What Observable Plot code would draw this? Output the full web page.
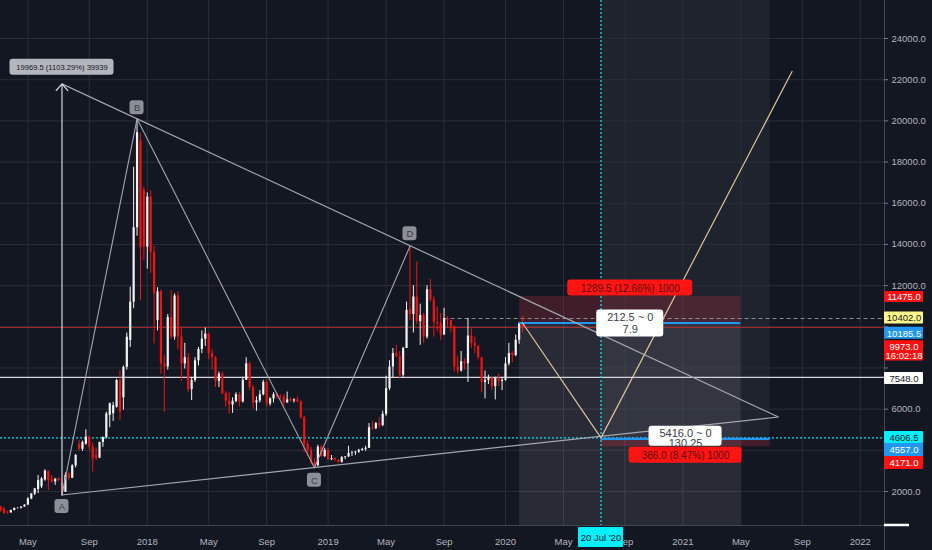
<!DOCTYPE html>
<html><head><meta charset="utf-8">
<script src="https://cdn.jsdelivr.net/npm/d3@7"></script>
<script src="https://cdn.jsdelivr.net/npm/@observablehq/plot@0.6"></script>
<style>html,body{margin:0;padding:0;background:#131722;overflow:hidden}#chart svg{display:block}</style>
</head><body><div id="chart"></div>
<script>
// ---------- DATA ----------
const firstWeek = "2017-03-06"; // weekly bars, Monday open
const opens = [1250,1150,1000,965,1080,1180,1190,1250,1340,1640,1880,2100,2230,2560,2970,2600,2460,2610,2450,1970,2850,2650,3250,4300,4050,4300,4640,4150,3760,3620,4380,4620,5700,5780,6095,7390,6550,8037,9340,11200,14810,19020,16620,13870,16300,13600,10300,11700,8200,8050,10450,9500,11500,9500,8200,8500,6950,7400,8350,8900,9400,9650,8700,8500,7350,7700,6750,6400,6200,6380,6700,6350,7400,8200,7050,6300,6400,6700,7300,6250,6500,6700,6620,6580,6300,6450,6400,6450,6350,5600,4300,4000,3400,3250,4150,3700,4000,3550,3600,3520,3420,3650,3680,3850,3880,3920,4000,4050,4100,5100,5050,5300,5200,5750,7000,8050,8700,8550,7650,8950,10850,10600,11450,10250,10550,9500,11800,11300,10200,10150,9600,10400,10300,10000,8050,7850,8300,8200,9550,9200,9050,8500,7300,7400,7500,7100,7500,7350,7400,8200,8700,8600,9350,10150];
const highs = [1290,1200,1060,1100,1200,1220,1260,1360,1700,1900,2150,2780,2680,3050,3000,2780,2630,2680,2560,2900,2930,3300,3800,4480,4450,5000,4700,4350,4100,4400,4650,5850,6300,6330,7450,7880,8100,9700,11925,17750,20100,19400,16780,16500,16600,13900,11900,11800,8600,10600,11750,11600,11700,9900,9200,8700,7550,8500,9000,9800,9950,9700,8900,8550,7800,7800,6850,6800,6550,6800,6800,7550,8500,8280,7150,6600,6900,7400,7410,6550,6800,6800,6700,6700,6830,6550,6500,6600,6400,5650,4450,4150,3600,4250,4250,4100,4100,3750,3650,3550,3700,3700,4200,3950,3950,4050,4100,4200,5300,5400,5350,5600,5900,7600,8350,8950,9100,8800,9000,11200,13914,12000,13150,11100,10650,12000,12300,11450,10950,10650,10900,10500,10300,10050,8550,8800,8450,10400,9900,9500,9100,8500,7850,7650,7550,7550,7700,7550,8500,9200,8800,9600,10200,10500];
const lows = [1000,890,900,940,1060,1150,1150,1230,1330,1600,1800,1900,2150,2500,2050,2400,2300,2480,1830,1950,2550,2630,3150,3950,3950,4250,4000,2950,3500,3600,4150,4550,5100,5400,6050,5450,5950,7900,9000,10880,14400,11280,13220,12800,12600,9170,9800,7700,5850,7900,9400,9350,8900,7350,7950,6800,6420,7300,8100,8700,9050,8400,7900,7050,7050,6700,6100,5750,5800,6300,6100,6300,7400,6900,6000,5900,6300,6650,6100,6150,6300,6500,6450,6100,6300,6350,6300,6300,5500,3900,3700,3300,3152,3200,3650,3650,3500,3500,3450,3350,3380,3550,3650,3700,3750,3850,3950,3950,4100,4950,5000,5050,5150,5650,6900,7500,8500,7450,7550,8950,10300,9700,10100,9100,9200,9400,11200,9500,9750,9350,9600,9950,9700,7800,7700,7800,7900,7300,8950,8700,8400,6800,6500,7200,6900,6450,7100,6900,7350,8100,8250,8550,9150,9700];
const closes = [1060,930,960,1080,1180,1190,1250,1340,1640,1880,2130,2530,2610,3000,2535,2470,2600,2530,1970,2780,2650,3250,3750,4050,4380,4640,4150,3600,3620,4380,4620,5770,6260,6170,7390,5860,8030,9494,11200,14810,19425,13840,13870,16300,13600,11600,11700,8200,8050,10450,9500,11500,9500,8200,8500,6950,7400,8350,8900,9400,9650,8700,8500,7350,7700,6750,6400,6200,6380,6700,6350,7400,8200,7050,6300,6400,6700,7300,6250,6500,6700,6620,6580,6300,6450,6400,6450,6350,5600,4300,4000,3400,3250,4150,3700,4000,3550,3600,3520,3420,3650,3680,3850,3880,3920,4000,4050,4100,5100,5050,5300,5200,5750,7000,8050,8700,8550,7650,8950,10800,10600,11450,10250,10550,9500,11800,11300,10200,10150,9600,10400,10300,10000,8050,7850,8300,8200,9550,9200,9050,8500,7300,7400,7500,7100,7500,7350,7400,8200,8700,8600,9350,10150,9973];

const xDomain = ["2017-03-05T19:30:00Z", "2022-02-21T17:00:00Z"];
const yDomain = [350, 25847];
const yTicks = [2000, 4000, 6000, 8000, 10000, 12000, 14000, 16000, 18000, 20000, 22000, 24000];
const yTickLabelsShown = [2000, 6000, 12000, 14000, 16000, 18000, 20000, 22000, 24000]; // others hidden behind price tags
const xTickDates = ["2017-05-01","2017-09-04","2018-01-01","2018-05-07","2018-09-03","2019-01-07","2019-05-06","2019-09-02","2020-01-06","2020-05-04","2020-09-07","2021-01-04","2021-05-03","2021-09-06","2022-01-03"];
const xTickLabels = ["May","Sep","2018","May","Sep","2019","May","Sep","2020","May","Sep","2021","May","Sep","2022"];

// drawings
const patternLabels = ["A","B","C","D"];
const patternDates = ["2017-07-10","2017-12-11","2018-12-10","2019-06-24"];
const patternPrices = [1830, 20100, 3152, 13914];
const arrowTopPrice = 21799.5;
const arrowText = "19969.5 (1103.29%) 39939";
const apexDate = "2021-07-19";
const apexPrice = 5620;
const projDates = ["2020-02-10","2020-07-20","2021-08-16"];
const projPrices = [10185.5, 4606.5, 22400];
const shortStart = "2020-02-04", shortEnd = "2021-05-03", shortEntry = 10185.5, shortStop = 11475;
const shortStopText = "1289.5 (12.66%) 1000", shortPnl = "212.5 ~ 0", shortRR = "7.9";
const longStart = "2020-07-20", longEnd = "2021-07-02", longEntry = 4557, longStop = 4171;
const longStopText = "386.0 (8.47%) 1000", longPnl = "5416.0 ~ 0", longRR = "130.25";
const lastPrice = 9973, whiteLevel = 7548, cyanLevel = 4606.5;
const dashedLevel = 10402, dashedStart = "2019-09-02";
const cursorDate = "2020-07-20", cursorText = "20 Jul '20";
const tagPrices = [11475, 10402, 10185.5, 9973, 9973, 7548, 4606.5, 4557, 4171];
const tagTexts = ["11475.0","10402.0","10185.5","9973.0","16:02:18","7548.0","4606.5","4557.0","4171.0"];
const tagKinds = ["red","yellow","blue","red","red","white","cyan","blue","red"];

// ---------- BUILD ----------
const D = s => new Date(s);
const candles = opens.map((o, i) => ({
  date: new Date(D(firstWeek).getTime() + i * 7 * 864e5),
  open: o, high: highs[i], low: lows[i], close: closes[i], up: closes[i] >= o
}));
const xEnd = D(xDomain[1]);
const pattern = patternLabels.map((l, i) => ({label: l, date: D(patternDates[i]), price: patternPrices[i]}));
const proj = projDates.map((d, i) => ({date: D(d), price: projPrices[i]}));
const mid = (a, b) => new Date((D(a).getTime() + D(b).getTime()) / 2);

const FONT = "Liberation Sans, Arial, sans-serif";
const RED = "#f23645", WHITE_C = "#f2f2f2", RED_C = "#f01414";
const tagFill = {red: "#ff1010", yellow: "#fff78a", blue: "#2196f3", white: "#ffffff", cyan: "#00f0ff"};
const tagInk = {red: "#ffffff", yellow: "#131722", blue: "#ffffff", white: "#131722", cyan: "#131722"};
const tagDy = [0.5, -0.5, 10.2, 19, 28.6, 1.2, -0.4, 11.1, 16.2];
const tagH = [11, 12, 12, 11, 10, 12, 12, 13, 13];

// helper: pixel-sized box anchored at a data point
function box(data, o) {
  const w = o.w, h = o.h;
  return Plot.rect(data, {
    x1: o.x, x2: o.x, y1: o.y, y2: o.y,
    insetLeft: o.left ? 0 : -w / 2, insetRight: o.left ? -w : -w / 2,
    insetTop: -h / 2, insetBottom: -h / 2,
    dx: o.dx || 0, dy: o.dy || 0, fill: o.fill, rx: o.rx ?? 2, stroke: o.stroke
  });
}

const tags = tagPrices.map((p, i) => ({price: p, text: tagTexts[i], kind: tagKinds[i], dy: tagDy[i], h: tagH[i]}));

const marks = [
  // long tool target zone (grey, to top)
  Plot.rect([0], {x1: D(longStart), x2: D(longEnd), y1: longEntry, y2: yDomain[1], fill: "#ffffff", fillOpacity: 0.055}),
  // grid
  Plot.ruleY(yTicks, {stroke: "#2a2e39", strokeWidth: 1}),
  Plot.ruleX(xTickDates.map(D), {stroke: "#2a2e39", strokeWidth: 1}),
  // short tool target zone (grey, down to bottom)
  Plot.rect([0], {x1: D(shortStart), x2: D(shortEnd), y1: yDomain[0], y2: shortEntry, fill: "#ffffff", fillOpacity: 0.09}),
  // stop zones
  Plot.rect([0], {x1: D(shortStart), x2: D(shortEnd), y1: shortEntry, y2: shortStop, fill: RED, fillOpacity: 0.2}),
  Plot.rect([0], {x1: D(longStart), x2: D(longEnd), y1: longStop, y2: longEntry, fill: RED, fillOpacity: 0.22}),
  // horizontal levels
  Plot.ruleY([whiteLevel], {stroke: "#d1d4dc", strokeWidth: 1.2}),
  Plot.ruleY([lastPrice], {stroke: "#d32f2f", strokeOpacity: 0.8, strokeWidth: 1}),
  Plot.ruleY([dashedLevel], {x1: D(dashedStart), x2: xEnd, stroke: "#8a8d96", strokeDasharray: "4,3", strokeWidth: 1}),
  Plot.ruleY([cyanLevel], {stroke: "#22d3ee", strokeDasharray: "2,2", strokeWidth: 1.3}),
  Plot.ruleX([D(cursorDate)], {stroke: "#22d3ee", strokeDasharray: "2,2", strokeWidth: 1.3}),
  // candles
  Plot.ruleX(candles, {x: "date", y1: "low", y2: "high", stroke: d => d.up ? WHITE_C : RED_C, strokeWidth: 1}),
  Plot.ruleX(candles, {x: "date", y1: "open", y2: "close", stroke: d => d.up ? WHITE_C : RED_C, strokeWidth: 2.2}),
  // entry lines
  Plot.ruleY([shortEntry], {x1: D(shortStart), x2: D(shortEnd), stroke: "#2196f3", strokeWidth: 2.2}),
  Plot.ruleY([longEntry], {x1: D(longStart), x2: D(longEnd), stroke: "#2196f3", strokeWidth: 2.2}),
  // triangle
  Plot.link([0], {x1: D(patternDates[0]), y1: arrowTopPrice, x2: D(apexDate), y2: apexPrice, stroke: "#a3a6af", strokeWidth: 1.2}),
  Plot.link([0], {x1: D(patternDates[0]), y1: patternPrices[0], x2: D(apexDate), y2: apexPrice, stroke: "#a3a6af", strokeWidth: 1.2}),
  // ABCD
  Plot.line(pattern, {x: "date", y: "price", stroke: "#a3a6af", strokeWidth: 1.1}),
  // vertical measure arrow
  Plot.arrow([0], {x1: D(patternDates[0]), y1: patternPrices[0], x2: D(patternDates[0]), y2: arrowTopPrice, stroke: "#d1d4dc", strokeWidth: 1.2, headLength: 11, headAngle: 82}),
  // projection path
  Plot.line(proj, {x: "date", y: "price", stroke: "#dcc49c", strokeWidth: 1.2})
];
// pattern point labels
const patDy = [11.5, -11, 12.4, -12.5];
pattern.forEach((p, i) => {
  marks.push(box([p], {x: "date", y: "price", w: 14, h: 14, dy: patDy[i], fill: "#8c8f98", rx: 3}));
  marks.push(Plot.text([p], {x: "date", y: "price", text: "label", dy: patDy[i] + 0.5, fill: "#3b3e46", fontSize: 9.5, fontFamily: FONT}));
});

marks.push(
  // arrow measure label
  box([0], {x: D(patternDates[0]), y: arrowTopPrice, w: 104, h: 16, dy: -16.5, fill: "#b4b6bd", rx: 3}),
  Plot.text([arrowText], {x: D(patternDates[0]), y: arrowTopPrice, text: d => d, dy: -16, fill: "#131722", fontSize: 7.6, fontFamily: FONT}),
  // short tool labels
  box([0], {x: mid(shortStart, shortEnd), y: shortStop, w: 125, h: 16, dy: -8.4, fill: "#ff1414", rx: 3}),
  Plot.text([shortStopText], {x: mid(shortStart, shortEnd), y: shortStop, text: d => d, dy: -8, fill: "#5d1010", fontSize: 10, fontFamily: FONT}),
  box([0], {x: mid(shortStart, shortEnd), y: shortEntry, w: 67, h: 27, dy: 0.4, fill: "#ffffff", rx: 3}),
  Plot.text([shortPnl], {x: mid(shortStart, shortEnd), y: shortEntry, text: d => d, dy: -6, fill: "#3a3d46", fontSize: 11, fontFamily: FONT}),
  Plot.text([shortRR], {x: mid(shortStart, shortEnd), y: shortEntry, text: d => d, dy: 6.5, fill: "#3a3d46", fontSize: 11, fontFamily: FONT}),
  // long tool labels
  box([0], {x: mid(longStart, longEnd), y: longEntry, w: 73, h: 20, dy: -2.7, fill: "#ffffff", rx: 3}),
  Plot.text([longPnl], {x: mid(longStart, longEnd), y: longEntry, text: d => d, dy: -5.5, fill: "#3a3d46", fontSize: 11, fontFamily: FONT}),
  Plot.text([longRR], {x: mid(longStart, longEnd), y: longEntry, text: d => d, dy: 5, fill: "#3a3d46", fontSize: 11, fontFamily: FONT}),
  box([0], {x: mid(longStart, longEnd), y: longStop, w: 113, h: 16, dy: 8.4, fill: "#ff1414", rx: 3}),
  Plot.text([longStopText], {x: mid(longStart, longEnd), y: longStop, text: d => d, dy: 8.8, fill: "#5d1010", fontSize: 10, fontFamily: FONT}),
  // axis frame
  Plot.ruleY([yDomain[0]], {stroke: "#434651", strokeWidth: 1}),
  Plot.ruleX([xEnd], {stroke: "#434651", strokeWidth: 1, insetBottom: -25}),
  // y ticks and labels
  Plot.ruleY(yTicks, {x1: xEnd, x2: xEnd, insetRight: -4, stroke: "#787b86"}),
  Plot.text(yTickLabelsShown, {x: xEnd, y: d => d, text: d => d.toFixed(1), dx: 7, textAnchor: "start", fill: "#b2b5be", fontSize: 9.5, fontFamily: FONT}),
  // x labels
  Plot.text(xTickDates.map((d, i) => ({date: D(d), label: xTickLabels[i]})), {x: "date", y: yDomain[0], text: "label", dy: 16, fill: "#b2b5be", fontSize: 9.5, fontFamily: FONT}),
  // scrollbar nub
  box([0], {x: xEnd, y: yDomain[0], w: 25, h: 2.5, left: true, fill: "#ffffff", rx: 0})
);
// price tags on the right axis
tags.forEach(t => {
  marks.push(box([t], {x: xEnd, y: "price", w: 39, h: t.h, left: true, dy: t.dy, fill: tagFill[t.kind], rx: 1}));
  marks.push(Plot.text([t], {x: xEnd, y: "price", text: "text", dx: 19.5, dy: t.dy + 0.3, fill: tagInk[t.kind], fontSize: 9.5, fontFamily: FONT}));
});
// cursor date tag
marks.push(
  box([0], {x: D(cursorDate), y: yDomain[0], w: 45, h: 20, dy: 12, fill: "#00f0ff", rx: 1}),
  Plot.text([cursorText], {x: D(cursorDate), y: yDomain[0], text: d => d, dy: 12, fill: "#131722", fontSize: 9.5, fontFamily: FONT})
);

const chart = Plot.plot({
  width: 932, height: 550,
  marginTop: 0, marginLeft: 0, marginRight: 48, marginBottom: 25,
  x: {type: "utc", domain: xDomain.map(D), axis: null},
  y: {type: "linear", domain: yDomain, axis: null},
  style: {background: "#131722", fontFamily: FONT, overflow: "visible"},
  marks
});
document.getElementById("chart").appendChild(chart);
</script>
</body></html>
